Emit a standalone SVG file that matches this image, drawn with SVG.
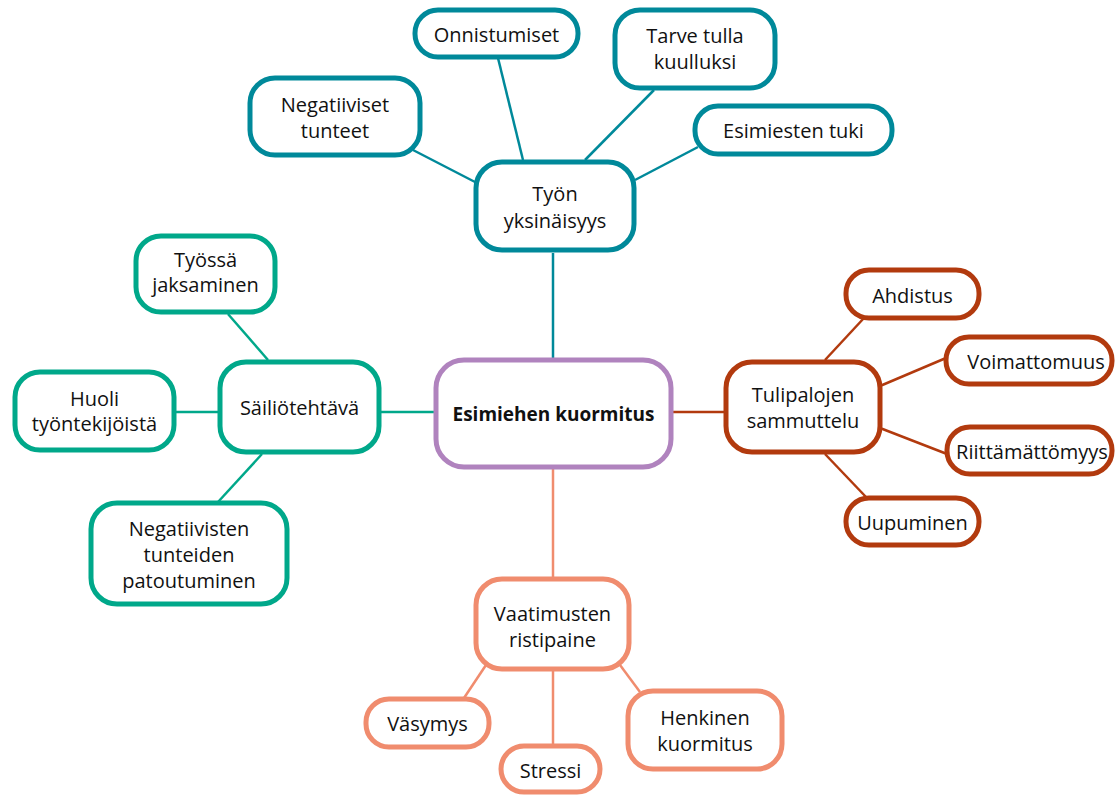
<svg xmlns="http://www.w3.org/2000/svg" width="1115" height="795" viewBox="0 0 1115 795">
<style>
rect{fill:#fff;stroke-width:5}
text{font-family:"Open Sans","Noto Sans",sans-serif;font-size:20px;fill:#111;text-anchor:middle}
.c line{stroke-width:2.5}
.t rect{stroke:#00899A}.t line{stroke:#00899A}
.g rect{stroke:#00A88A}.g line{stroke:#00A88A}
.r rect{stroke:#B23A0E}.r line{stroke:#B23A0E}
.s rect{stroke:#F08C6E}.s line{stroke:#F08C6E}
.p rect{stroke:#B083BE}
.b{font-weight:bold;font-size:19px}
</style>
<g id="connectors" class="c">
<g class="t">
<line x1="553" y1="253" x2="553" y2="360"/>
<line x1="475" y1="182" x2="413" y2="150"/>
<line x1="523" y1="160" x2="498" y2="58"/>
<line x1="585" y1="160" x2="654" y2="90"/>
<line x1="635" y1="180" x2="698" y2="147"/>
</g>
<g class="g">
<line x1="380" y1="412" x2="436" y2="412"/>
<line x1="268" y1="360" x2="228" y2="314"/>
<line x1="175" y1="412" x2="220" y2="412"/>
<line x1="262" y1="454" x2="218" y2="502"/>
</g>
<g class="r">
<line x1="671" y1="412" x2="726" y2="412"/>
<line x1="825" y1="360" x2="864" y2="318"/>
<line x1="880" y1="386" x2="946" y2="358"/>
<line x1="880" y1="428" x2="947" y2="454"/>
<line x1="825" y1="454" x2="866" y2="497"/>
</g>
<g class="s">
<line x1="553" y1="467" x2="553" y2="579"/>
<line x1="486" y1="665" x2="464" y2="698"/>
<line x1="553" y1="669" x2="553" y2="746"/>
<line x1="620" y1="665" x2="640" y2="692"/>
</g>
</g>
<g id="center" class="p"><rect x="436" y="360" width="235" height="107" rx="28"/><text class="b" x="553.5" y="421">Esimiehen kuormitus</text></g>
<g class="t">
<g id="tyon"><rect x="476" y="162" width="158" height="88" rx="26"/><text x="555" y="201">Työn</text><text x="555" y="228">yksinäisyys</text></g>
<g id="negatiiviset"><rect x="250" y="78" width="170" height="77" rx="25"/><text x="335" y="112">Negatiiviset</text><text x="335" y="138">tunteet</text></g>
<g id="onnistumiset"><rect x="415" y="10" width="163" height="47" rx="23"/><text x="496.5" y="42">Onnistumiset</text></g>
<g id="tarve"><rect x="615" y="10" width="160" height="78" rx="25"/><text x="695" y="43">Tarve tulla</text><text x="695" y="69">kuulluksi</text></g>
<g id="esimiesten"><rect x="695" y="106" width="197" height="48" rx="23"/><text x="793.5" y="138">Esimiesten tuki</text></g>
</g>
<g class="g">
<g id="sailio"><rect x="220" y="362" width="159" height="90" rx="26"/><text x="299.5" y="415">Säiliötehtävä</text></g>
<g id="tyossa"><rect x="136" y="236" width="139" height="76" rx="25"/><text x="205.5" y="267">Työssä</text><text x="205.5" y="292">jaksaminen</text></g>
<g id="huoli"><rect x="15" y="372" width="159" height="78" rx="25"/><text x="94.5" y="406">Huoli</text><text x="94.5" y="431">työntekijöistä</text></g>
<g id="patoutuminen"><rect x="91" y="503" width="196" height="101" rx="26"/><text x="189" y="536">Negatiivisten</text><text x="189" y="562">tunteiden</text><text x="189" y="588">patoutuminen</text></g>
</g>
<g class="r">
<g id="tulipalojen"><rect x="726" y="362" width="154" height="90" rx="26"/><text x="803" y="402">Tulipalojen</text><text x="803" y="428">sammuttelu</text></g>
<g id="ahdistus"><rect x="846" y="270" width="133" height="48" rx="23"/><text x="912.5" y="303">Ahdistus</text></g>
<g id="voimattomuus"><rect x="946" y="337" width="166" height="47" rx="23"/><text x="1036" y="369">Voimattomuus</text></g>
<g id="riittamattomyys"><rect x="947" y="427" width="165" height="47" rx="23"/><text x="1032" y="459">Riittämättömyys</text></g>
<g id="uupuminen"><rect x="846" y="498" width="133" height="47" rx="23"/><text x="912.5" y="530">Uupuminen</text></g>
</g>
<g class="s">
<g id="vaatimusten"><rect x="476" y="579" width="153" height="90" rx="26"/><text x="552.5" y="621">Vaatimusten</text><text x="552.5" y="647">ristipaine</text></g>
<g id="vasymys"><rect x="366" y="699" width="123" height="48" rx="23"/><text x="427.5" y="731">Väsymys</text></g>
<g id="stressi"><rect x="501" y="746" width="99" height="46" rx="23"/><text x="550.5" y="778">Stressi</text></g>
<g id="henkinen"><rect x="628" y="691" width="154" height="78" rx="25"/><text x="705" y="725">Henkinen</text><text x="705" y="751">kuormitus</text></g>
</g>
</svg>
